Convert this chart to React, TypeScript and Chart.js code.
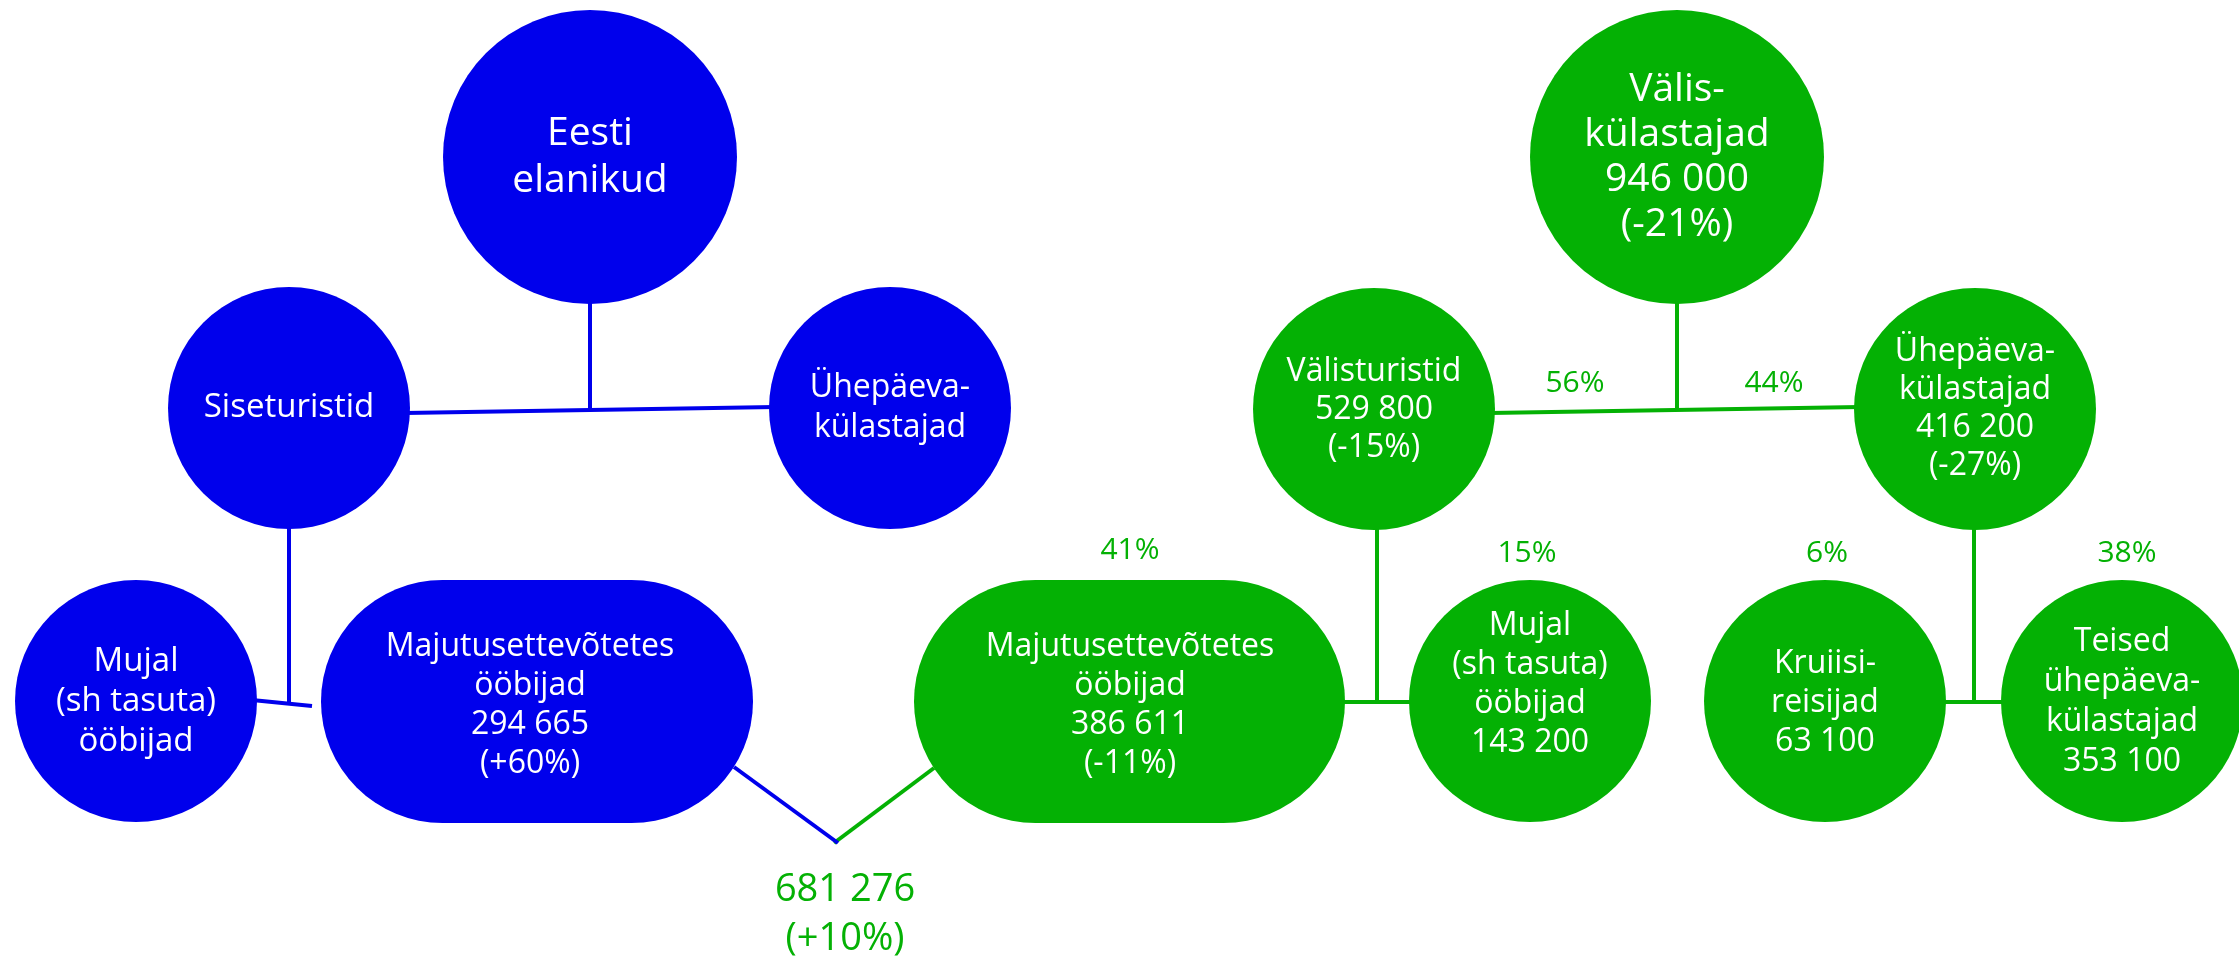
import React, { useEffect, useRef } from "react";
import { Chart, registerables } from "chart.js";

Chart.register(...registerables);

// ---- data ----
const circleNames = [
  "Eesti\nelanikud",
  "Siseturistid",
  "Ühepäeva-\nkülastajad",
  "Mujal\n(sh tasuta)\nööbijad",
  "Välis-\nkülastajad",
  "Välisturistid",
  "Ühepäeva-\nkülastajad",
  "Mujal\n(sh tasuta)\nööbijad",
  "Kruiisi-\nreisijad",
  "Teised\nühepäeva-\nkülastajad",
];
const circleValues: (number | null)[] = [null, null, null, null, 946000, 529800, 416200, 143200, 63100, 353100];
const circleChanges: (number | null)[] = [null, null, null, null, -21, -15, -27, null, null, null];
const circleGroup = ["EE", "EE", "EE", "EE", "FOR", "FOR", "FOR", "FOR", "FOR", "FOR"];

const stadiumNames = ["Majutusettevõtetes\nööbijad", "Majutusettevõtetes\nööbijad"];
const stadiumValues = [294665, 386611];
const stadiumChanges = [60, -11];
const stadiumGroup = ["EE", "FOR"];

const shareLabels = [56, 44, 41, 15, 6, 38];

const totalValue = 681276;
const totalChange = 10;

// ---- layout (diagram coordinates) ----
const circleX = [590, 289, 890, 136, 1677, 1374, 1975, 1530, 1825, 2122];
const circleY = [157, 408, 408, 701, 157, 409, 409, 701, 701, 701];
const circleR = [147, 121, 121, 121, 147, 121, 121, 121, 121, 121];
const circleFont = [39, 33, 32, 33, 39, 32, 32, 32, 32, 32];
const circleLineH = [47, 40, 40, 40, 45, 38, 38, 39, 39, 40];
const circleTextY = [157, 408, 408, 702, 157, 410, 409, 684, 703, 702];

const stadiumLeft = [321, 914];
const stadiumRight = [753, 1345];
const stadiumTop = [580, 580];
const stadiumBottom = [823, 823];
const stadiumTextX = [530, 1130];

const shareX = [1575, 1774, 1130, 1527, 1827, 2127];
const shareY = [383, 383, 550, 553, 553, 553];

const totalX = 845;
const totalY = 891;

const blueLines = [
  [[590, 300], [590, 410]],
  [[405, 413], [775, 407]],
  [[289, 525], [289, 703]],
  [[252, 700], [312, 706]],
  [[734, 767], [838, 843]],
];
const greenLines = [
  [[834, 843], [934, 768]],
  [[1677, 300], [1677, 409]],
  [[1490, 413], [1860, 407]],
  [[1377, 525], [1377, 702]],
  [[1340, 702], [1412, 702]],
  [[1974, 525], [1974, 702]],
  [[1942, 702], [2008, 702]],
];

const BLUE = "#0000ec";
const GREEN = "#04b104";
const FONT = "'Open Sans', 'Noto Sans', 'DejaVu Sans', sans-serif";

const fmt = (n: number) => String(n).replace(/\B(?=(\d{3})+(?!\d))/g, " ");
const fmtChange = (c: number) => `(${c > 0 ? "+" : ""}${c}%)`;

function nodeLines(name: string, value: number | null, change: number | null) {
  const lines = name.split("\n");
  if (value !== null) lines.push(fmt(value));
  if (change !== null) lines.push(fmtChange(change));
  return lines;
}

const colorOf = (g: string) => (g === "EE" ? BLUE : GREEN);

export default function App() {
  const ref = useRef<HTMLCanvasElement | null>(null);

  useEffect(() => {
    const canvas = ref.current;
    if (!canvas) return;

    const lineDatasets: any[] = [];
    blueLines.forEach((l) =>
      lineDatasets.push({
        data: l.map(([x, y]) => ({ x, y })),
        showLine: true,
        borderColor: BLUE,
        borderWidth: 4,
        pointRadius: 0,
        order: 5,
        clip: false,
      })
    );
    greenLines.forEach((l) =>
      lineDatasets.push({
        data: l.map(([x, y]) => ({ x, y })),
        showLine: true,
        borderColor: GREEN,
        borderWidth: 4,
        pointRadius: 0,
        order: 5,
        clip: false,
      })
    );

    const circleDataset = {
      data: circleX.map((x, i) => ({ x, y: circleY[i] })),
      pointRadius: circleR,
      pointHoverRadius: circleR,
      pointBackgroundColor: circleGroup.map(colorOf),
      pointBorderWidth: 0,
      borderWidth: 0,
      showLine: false,
      order: 1,
      clip: false,
    };

    const stadiumPlugin = {
      id: "stadiums",
      beforeDatasetsDraw(chart: any) {
        const { ctx, scales } = chart;
        const xs = scales.x;
        const ys = scales.y;
        ctx.save();
        stadiumLeft.forEach((l, i) => {
          const x0 = xs.getPixelForValue(l);
          const x1 = xs.getPixelForValue(stadiumRight[i]);
          const y0 = ys.getPixelForValue(stadiumTop[i]);
          const y1 = ys.getPixelForValue(stadiumBottom[i]);
          const r = (y1 - y0) / 2;
          ctx.fillStyle = colorOf(stadiumGroup[i]);
          ctx.beginPath();
          ctx.moveTo(x0 + r, y0);
          ctx.lineTo(x1 - r, y0);
          ctx.arc(x1 - r, y0 + r, r, -Math.PI / 2, Math.PI / 2);
          ctx.lineTo(x0 + r, y1);
          ctx.arc(x0 + r, y0 + r, r, Math.PI / 2, (3 * Math.PI) / 2);
          ctx.closePath();
          ctx.fill();
        });
        ctx.restore();
      },
    };

    const drawBlock = (ctx: any, lines: string[], cx: number, cy: number, size: number, lh: number, color: string) => {
      ctx.font = `${size}px ${FONT}`;
      ctx.fillStyle = color;
      ctx.textAlign = "center";
      ctx.textBaseline = "middle";
      const start = cy - ((lines.length - 1) * lh) / 2;
      lines.forEach((t, k) => ctx.fillText(t, cx, start + k * lh));
    };

    const textPlugin = {
      id: "texts",
      afterDatasetsDraw(chart: any) {
        const { ctx, scales } = chart;
        const xs = scales.x;
        const ys = scales.y;
        ctx.save();
        circleNames.forEach((name, i) => {
          drawBlock(
            ctx,
            nodeLines(name, circleValues[i], circleChanges[i]),
            xs.getPixelForValue(circleX[i]),
            ys.getPixelForValue(circleTextY[i]),
            circleFont[i],
            circleLineH[i],
            "#ffffff"
          );
        });
        stadiumNames.forEach((name, i) => {
          drawBlock(
            ctx,
            nodeLines(name, stadiumValues[i], stadiumChanges[i]),
            xs.getPixelForValue(stadiumTextX[i]),
            ys.getPixelForValue(705),
            32,
            39,
            "#ffffff"
          );
        });
        shareLabels.forEach((s, i) => {
          drawBlock(ctx, [`${s}%`], xs.getPixelForValue(shareX[i]), ys.getPixelForValue(shareY[i]), 30, 30, GREEN);
        });
        drawBlock(
          ctx,
          [fmt(totalValue), fmtChange(totalChange)],
          xs.getPixelForValue(totalX),
          ys.getPixelForValue(totalY + 24),
          38,
          49,
          GREEN
        );
        ctx.restore();
      },
    };

    const chart = new Chart(canvas, {
      type: "scatter",
      data: { datasets: [circleDataset, ...lineDatasets] as any },
      options: {
        animation: false,
        responsive: false,
        events: [],
        layout: { padding: 0, autoPadding: false },
        plugins: { legend: { display: false }, tooltip: { enabled: false } },
        scales: {
          x: { type: "linear", min: 0, max: 2239, display: false },
          y: { type: "linear", min: 0, max: 963, reverse: true, display: false },
        },
      } as any,
      plugins: [stadiumPlugin, textPlugin],
    });
    return () => chart.destroy();
  }, []);

  return (
    <div style={{ position: "fixed", left: 0, top: 0, width: 2239, height: 963, background: "#fff" }}>
      <canvas ref={ref} width={2239} height={963} style={{ display: "block" }} />
    </div>
  );
}
